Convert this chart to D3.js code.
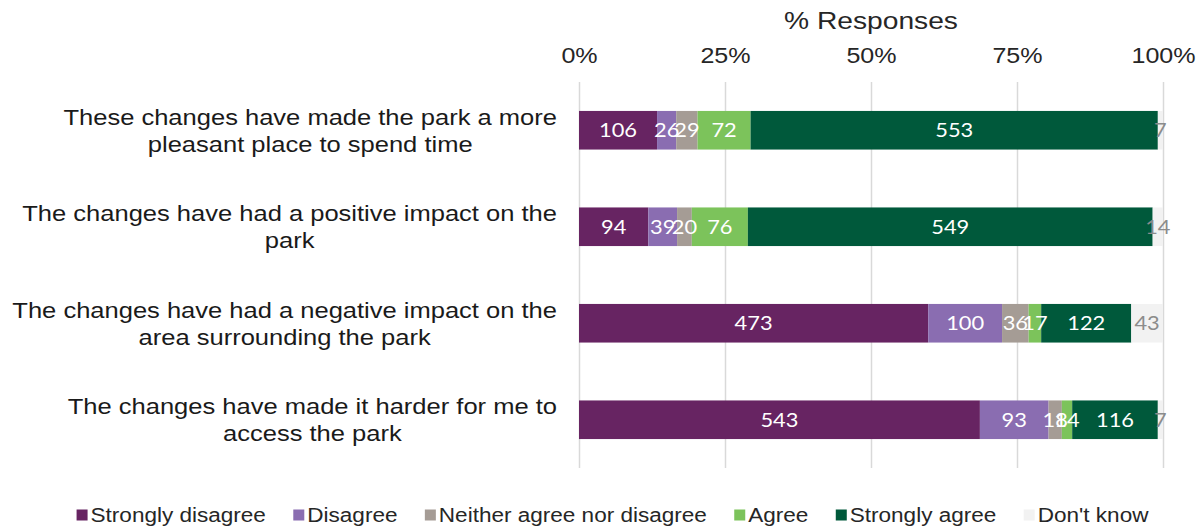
<!DOCTYPE html>
<html>
<head>
<meta charset="utf-8">
<script src="https://cdn.jsdelivr.net/npm/d3@7"></script>
<style>
  html, body { margin: 0; padding: 0; background: #ffffff; }
  svg { display: block; }
</style>
</head>
<body>
<svg id="chart" width="1203" height="528"></svg>
<script>
// Survey statements (each wrapped onto two lines)
const categoryLines = [
  ["These changes have made the park a more", "pleasant place to spend time"],
  ["The changes have had a positive impact on the", "park"],
  ["The changes have had a negative impact on the", "area surrounding the park"],
  ["The changes have made it harder for me to", "access the park"]
];

// Response options, in stacking order
const seriesNames = ["Strongly disagree", "Disagree", "Neither agree nor disagree", "Agree", "Strongly agree", "Don't know"];

// Response counts per statement
const stronglyDisagree = [106, 94, 473, 543];
const disagree         = [26, 39, 100, 93];
const neither          = [29, 20, 36, 18];
const agree            = [72, 76, 17, 14];
const stronglyAgree    = [553, 549, 122, 116];
const dontKnow         = [7, 14, 43, 7];

// Axis ticks
const tickValues = [0, 0.25, 0.5, 0.75, 1];
const axisTitle = "% Responses";

const seriesColors = ["#672462", "#8a6db1", "#a59c95", "#7cc35b", "#00593b", "#f2f2f2"];
const labelColors  = ["#ffffff", "#ffffff", "#ffffff", "#ffffff", "#ffffff", "#8c8c8c"];

const seriesValues = [stronglyDisagree, disagree, neither, agree, stronglyAgree, dontKnow];
const rows = categoryLines.map((lines, i) => {
  const r = { key: i };
  seriesNames.forEach((s, j) => { r[s] = seriesValues[j][i]; });
  return r;
});

const SX = 1.15; // horizontal text stretch
const FONT = "'Liberation Sans', Arial, sans-serif";
const LABEL_FONT = "Lato, 'Open Sans', sans-serif";

const svg = d3.select("#chart");

const plot = { left: 579, right: 1163, top: 82, bottom: 468 };

const x = d3.scaleLinear().domain([0, 1]).range([plot.left, plot.right]);
const y = d3.scaleBand()
  .domain(rows.map(d => d.key))
  .range([plot.top, plot.bottom])
  .paddingInner(0.6)
  .paddingOuter(0.3);

const stack = d3.stack().keys(seriesNames).offset(d3.stackOffsetExpand);
const stacked = stack(rows);

// Axis with gridlines
const axis = d3.axisTop(x)
  .tickValues(tickValues)
  .tickFormat(d3.format(".0%"))
  .tickSize(-(plot.bottom - plot.top))
  .tickPadding(19.5);

const gAxis = svg.append("g")
  .attr("transform", `translate(0,${plot.top})`)
  .call(axis);
gAxis.select(".domain").remove();
gAxis.selectAll(".tick line")
  .attr("stroke", "#d9d9d9")
  .attr("stroke-width", 1.5);
gAxis.selectAll(".tick text")
  .attr("fill", "#262626")
  .attr("font-family", FONT)
  .attr("font-size", 21.8)
  .attr("transform", `scale(${SX},1)`);

// Axis title
svg.append("text")
  .attr("transform", `translate(${(plot.left + plot.right) / 2},28.5) scale(${SX},1)`)
  .attr("text-anchor", "middle")
  .attr("font-family", FONT)
  .attr("font-size", 24.5)
  .attr("fill", "#262626")
  .text(axisTitle);

// Stacked bars
const layers = svg.append("g").selectAll("g")
  .data(stacked)
  .join("g")
  .attr("fill", (d, i) => seriesColors[i]);

layers.selectAll("rect")
  .data(d => d)
  .join("rect")
  .attr("x", d => x(d[0]))
  .attr("y", d => y(d.data.key))
  .attr("width", d => x(d[1]) - x(d[0]))
  .attr("height", y.bandwidth());

// Value labels centred in each segment
const labelLayers = svg.append("g").selectAll("g")
  .data(stacked)
  .join("g")
  .attr("fill", (d, i) => labelColors[i]);

labelLayers.selectAll("text")
  .data(d => d.map(v => ({ v, key: d.key })))
  .join("text")
  .attr("transform", d => `translate(${(x(d.v[0]) + x(d.v[1])) / 2},${y(d.v.data.key) + y.bandwidth() / 2 + 6.9}) scale(${SX},1)`)
  .attr("text-anchor", "middle")
  .attr("font-family", LABEL_FONT)
  .attr("font-size", 19)
  .text(d => d.v.data[d.key]);

// Category labels: block right-aligned to the plot, lines centred within it
const catRight = 557;
const catG = svg.append("g");
rows.forEach((r, i) => {
  const cy = y(r.key) + y.bandwidth() / 2;
  const lines = categoryLines[i];
  const texts = lines.map((line, k) => catG.append("text")
    .attr("font-family", FONT)
    .attr("font-size", 22.2)
    .attr("fill", "#1a1a1a")
    .attr("text-anchor", "middle")
    .text(line));
  const widths = texts.map(t => t.node().getComputedTextLength() * SX);
  const blockW = d3.max(widths);
  const cx = catRight - blockW / 2;
  texts.forEach((t, k) => {
    t.attr("transform", `translate(${cx},${cy - 5.5 + k * 27}) scale(${SX},1)`);
  });
});

// Legend
const legend = svg.append("g");
const legendItems = seriesNames.map((name, i) => {
  const g = legend.append("g");
  g.append("rect")
    .attr("x", 0).attr("y", -5.5)
    .attr("width", 11).attr("height", 11)
    .attr("fill", seriesColors[i]);
  const t = g.append("text")
    .attr("transform", `translate(14,7) scale(${SX},1)`)
    .attr("font-family", FONT)
    .attr("font-size", 19.6)
    .attr("fill", "#262626")
    .text(name);
  const w = 14 + t.node().getComputedTextLength() * SX;
  return { g, w };
});
const legendGap = 27.4;
const legendTotal = d3.sum(legendItems, d => d.w) + legendGap * (legendItems.length - 1);
let lx = 612.5 - legendTotal / 2;
legendItems.forEach(item => {
  item.g.attr("transform", `translate(${lx},515)`);
  lx += item.w + legendGap;
});
</script>
</body>
</html>
